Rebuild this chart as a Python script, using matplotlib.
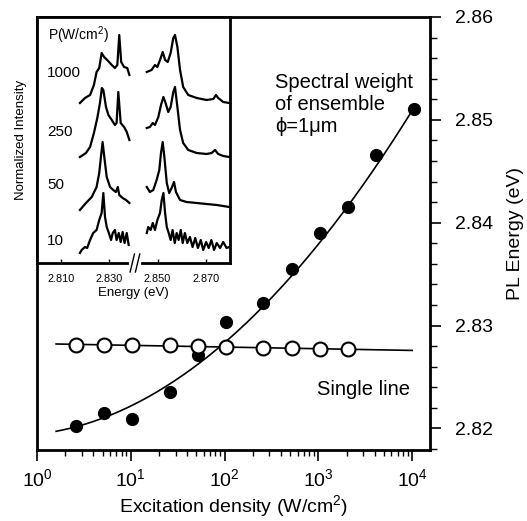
import numpy as np
import matplotlib
matplotlib.use("Agg")
import matplotlib.pyplot as plt
from matplotlib.ticker import LogLocator, MultipleLocator, FixedLocator, NullFormatter, NullLocator

plt.rcParams['font.family'] = ['Liberation Sans', 'DejaVu Sans']
plt.rcParams['mathtext.fontset'] = 'custom'
plt.rcParams['mathtext.rm'] = 'Liberation Sans'
plt.rcParams['mathtext.it'] = 'Liberation Sans:italic'
plt.rcParams['mathtext.default'] = 'regular'

# Основной график: энергия ФЛ от плотности возбуждения
ens_x = [2.6, 5.2, 10.4, 26, 52, 104, 260, 520, 1040, 2080, 4160, 10400]
ens_y = [2.8202, 2.8215, 2.8209, 2.8235, 2.8271, 2.8303, 2.8322, 2.8355, 2.8390, 2.8415, 2.8466, 2.8511]

single_x = [2.6, 5.2, 10.4, 26, 52, 104, 260, 520, 1040, 2080]
single_y = [2.8281, 2.8281, 2.8281, 2.8281, 2.8280, 2.8279, 2.8278, 2.8278, 2.8277, 2.8277]

# Точки кривой аппроксимации для ансамбля
fit_x = [1.6, 10, 26, 52, 100, 260, 520, 10000]
fit_y = [2.8198, 2.8222, 2.8242, 2.8260, 2.8283, 2.8320, 2.8351, 2.8508]

# Вставка: спектры при разных мощностях (левая и правая части)
powers = ['1000', '250', '50', '10']
spec_left_e = [
    [2.8178, 2.8199, 2.8220, 2.8236, 2.8247, 2.8258, 2.8268, 2.8278, 2.8291, 2.8310, 2.8323, 2.8333, 2.8341, 2.8349, 2.8361, 2.8374, 2.8383],
    [2.8178, 2.8203, 2.8220, 2.8236, 2.8250, 2.8261, 2.8269, 2.8275, 2.8286, 2.8296, 2.8310, 2.8323, 2.8330, 2.8337, 2.8347, 2.8361, 2.8372, 2.8383],
    [2.8178, 2.8203, 2.8227, 2.8247, 2.8258, 2.8265, 2.8272, 2.8279, 2.8289, 2.8303, 2.8316, 2.8327, 2.8335, 2.8341, 2.8355, 2.8369, 2.8383],
    [2.8178, 2.8185, 2.8199, 2.8208, 2.8220, 2.8233, 2.8247, 2.8258, 2.8268, 2.8275, 2.8282, 2.8289, 2.8298, 2.8307, 2.8314, 2.8323, 2.8330, 2.8339, 2.8347, 2.8355, 2.8363, 2.8372, 2.8380],
]
spec_left_i = [
    [160, 165, 168, 178, 191, 195, 210, 206, 203, 198, 195, 198, 228, 201, 196, 195, 188],
    [106, 110, 116, 130, 145, 160, 175, 173, 156, 148, 143, 138, 140, 171, 140, 136, 131, 123],
    [53, 60, 66, 76, 90, 106, 121, 106, 86, 76, 73, 71, 76, 68, 65, 63, 60],
    [10, 13, 16, 15, 23, 30, 33, 43, 50, 70, 46, 36, 30, 23, 30, 33, 23, 30, 21, 31, 20, 30, 18],
]
spec_right_e = [
    [2.8455, 2.8475, 2.8489, 2.8499, 2.8510, 2.8521, 2.8531, 2.8542, 2.8554, 2.8565, 2.8572, 2.8582, 2.8593, 2.8606, 2.8627, 2.8662, 2.8703, 2.8731, 2.8742, 2.8751, 2.8772, 2.8797],
    [2.8455, 2.8468, 2.8480, 2.8489, 2.8503, 2.8514, 2.8524, 2.8533, 2.8544, 2.8554, 2.8565, 2.8572, 2.8582, 2.8593, 2.8606, 2.8627, 2.8662, 2.8703, 2.8724, 2.8738, 2.8751, 2.8772, 2.8797],
    [2.8455, 2.8468, 2.8482, 2.8496, 2.8507, 2.8514, 2.8521, 2.8528, 2.8538, 2.8548, 2.8558, 2.8568, 2.8576, 2.8593, 2.8620, 2.8662, 2.8703, 2.8745, 2.8797],
    [2.8455, 2.8461, 2.8471, 2.8480, 2.8489, 2.8499, 2.8510, 2.8517, 2.8524, 2.8531, 2.8538, 2.8546, 2.8554, 2.8562, 2.8571, 2.8579, 2.8587, 2.8596, 2.8604, 2.8613,
     2.8623, 2.8634, 2.8645, 2.8656, 2.8667, 2.8679, 2.8689, 2.8701, 2.8712, 2.8723, 2.8734, 2.8745, 2.8759, 2.8772, 2.8786, 2.8797],
]
spec_right_i = [
    [191, 193, 198, 196, 203, 211, 203, 201, 210, 225, 228, 216, 193, 176, 168, 165, 163, 164, 168, 165, 161, 160],
    [135, 136, 140, 138, 146, 158, 166, 160, 151, 156, 171, 176, 156, 133, 120, 113, 110, 109, 110, 113, 109, 107, 106],
    [76, 71, 73, 83, 93, 110, 121, 106, 80, 70, 75, 81, 71, 63, 61, 60, 59, 58, 56],
    [30, 36, 33, 40, 33, 43, 50, 63, 70, 50, 36, 30, 23, 33, 20, 30, 23, 33, 20, 30,
     20, 26, 16, 25, 15, 23, 13, 21, 15, 23, 13, 20, 15, 21, 15, 16],
]
power_label_y = [190, 131, 78, 22]

fig = plt.figure(figsize=(5.27, 5.21), dpi=100)
ax = fig.add_axes([0.0702, 0.1363, 0.7457, 0.8311])

# Гладкие кривые: квадратичная по log x для ансамбля, прямая для одиночной линии
xf = np.logspace(np.log10(1.6), 4, 200)
p_ens = np.polyfit(np.log10(fit_x), fit_y, 2)
p_single = np.polyfit(np.log10(single_x), single_y, 1)
ax.plot(xf, np.polyval(p_ens, np.log10(xf)), color='black', lw=1.2, zorder=2)
ax.plot(xf, np.polyval(p_single, np.log10(xf)), color='black', lw=1.2, zorder=2)

ax.plot(ens_x, ens_y, 'o', color='black', ms=8.5, zorder=3)
ax.plot(single_x, single_y, 'o', mfc='white', mec='black', mew=1.5, ms=10, zorder=3)

ax.set_xscale('log')
ax.set_xlim(1, 15500)
ax.set_ylim(2.8179, 2.86)
ax.xaxis.set_major_locator(LogLocator(base=10, numticks=10))
ax.xaxis.set_minor_locator(LogLocator(base=10, subs=np.arange(2, 10), numticks=20))
ax.xaxis.set_minor_formatter(NullFormatter())
ax.yaxis.set_major_locator(MultipleLocator(0.01))
ax.yaxis.set_minor_locator(MultipleLocator(0.002))
ax.yaxis.set_major_formatter(plt.FuncFormatter(lambda v, p: f'{v:.2f}'))
ax.yaxis.tick_right()
ax.yaxis.set_label_position('right')
ax.tick_params(axis='x', which='major', direction='out', length=8, width=1.2, labelsize=14, pad=5)
ax.tick_params(axis='x', which='minor', direction='out', length=4.5, width=1.0)
ax.tick_params(axis='y', which='major', direction='out', length=8, width=1.2, labelsize=14, pad=10)
ax.tick_params(axis='y', which='minor', direction='out', length=5, width=1.0)
for s in ax.spines.values():
    s.set_linewidth(2.0)

ax.set_xlabel('Excitation density (W/cm$^2$)', fontsize=14, labelpad=2)
ax.set_ylabel('PL Energy (eV)', fontsize=14, labelpad=10)

ax.text(343, 2.85455, 'Spectral weight\nof ensemble\n\u03d5=1\u03bcm', fontsize=14.5, va='top', ha='left')
ax.text(959, 2.8238, 'Single line', fontsize=14.5, va='center', ha='left')

# Вставка
ins = fig.add_axes([0.0702, 0.4952, 0.3662, 0.4722])
ins.set_facecolor('white')
for e, i in zip(spec_left_e, spec_left_i):
    ins.plot(e, i, color='black', lw=1.6)
for e, i in zip(spec_right_e, spec_right_i):
    ins.plot(e, i, color='black', lw=1.6)
ins.set_xlim(2.800, 2.880)
ins.set_ylim(0, 246)
ins.xaxis.set_major_locator(FixedLocator([2.810, 2.830, 2.850, 2.870]))
ins.xaxis.set_major_formatter(plt.FuncFormatter(lambda v, p: f'{v:.3f}'))
ins.yaxis.set_major_locator(NullLocator())
ins.tick_params(axis='x', direction='in', length=3, width=1.0, labelsize=7.8, pad=8)
for s in ins.spines.values():
    s.set_linewidth(2.0)
ins.set_xlabel('Energy (eV)', fontsize=9.5, labelpad=2)
ins.set_ylabel('Normalized Intensity', fontsize=9.5, labelpad=7)

ins.text(2.8046, 228, 'P(W/cm$^2$)', fontsize=10, va='center', ha='left')
for lab, yy in zip(powers, power_label_y):
    ins.text(2.8041, yy, lab, fontsize=11, va='center', ha='left')

# Разрыв оси
bx = 2.8406
ins.plot([bx - 0.0016, bx + 0.0016], [0, 0], color='white', lw=3, clip_on=False, zorder=5)
for dx in (-0.0011, 0.0011):
    ins.plot([bx + dx - 0.0009, bx + dx + 0.0009], [-9, 9], color='black', lw=1.0, clip_on=False, zorder=6)

fig.savefig('out.png', dpi=100)
